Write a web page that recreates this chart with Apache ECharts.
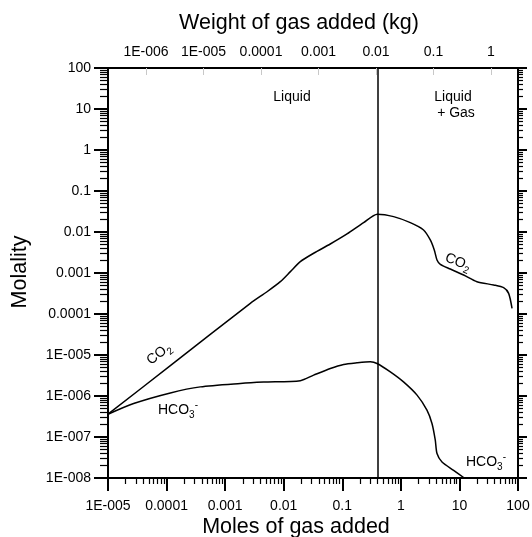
<!DOCTYPE html>
<html>
<head>
<meta charset="utf-8">
<script src="https://cdn.jsdelivr.net/npm/echarts@6/dist/echarts.min.js"></script>
<style>
html, body { margin: 0; padding: 0; background: #fff; }
#chart { width: 532px; height: 537px; }
</style>
</head>
<body>
<div id="chart"></div>
<script>
// moles of gas added (x) and molality (y)
var molesCO2 = [1e-5, 1.16e-4, 2.69e-3, 5.19e-3, 8.75e-3, 0.013, 0.0192, 0.0324, 0.0624, 0.1205, 0.231, 0.396,
                0.752, 1.45, 2.44, 3.18, 3.72, 4.14, 4.72, 6.99, 11.8, 19.9, 38.4, 56.8, 69.2, 79.1];
var co2 = [3.6e-7, 5.5e-6, 1.82e-4, 3.49e-4, 6.14e-4, 1.08e-3, 1.89e-3, 3.03e-3, 5.1e-3, 8.97e-3, 0.0169, 0.0272,
           0.0237, 0.0169, 0.0112, 6.4e-3, 3.65e-3, 2.08e-3, 1.63e-3, 1.25e-3, 8.93e-4, 6.14e-4, 5.1e-4, 4.38e-4, 3.19e-4, 1.37e-4];

var molesHCO3 = [1e-5, 2.74e-5, 1.16e-4, 3.77e-4, 1.82e-3, 4.54e-3, 0.0192, 0.0324, 0.0624, 0.1055, 0.178, 0.301, 0.392,
                 0.661, 1.11, 1.89, 2.79, 3.4, 3.87, 4.14, 5.04, 7.96, 12.1];
var hco3 = [3.6e-7, 6.56e-7, 1.19e-6, 1.67e-6, 2.02e-6, 2.18e-6, 2.37e-6, 3.23e-6, 4.7e-6, 5.89e-6, 6.44e-6, 6.81e-6, 6.22e-6,
            3.88e-6, 2.21e-6, 1.05e-6, 4.51e-7, 2.13e-7, 8.34e-8, 3.94e-8, 2.46e-8, 1.54e-8, 1e-8];

var phaseBoundary = 0.4;   // moles where gas appears

var xTicks = [1e-5, 1e-4, 1e-3, 0.01, 0.1, 1, 10, 100];
var xTickLabels = ['1E-005', '0.0001', '0.001', '0.01', '0.1', '1', '10', '100'];
var yTicks = [1e-8, 1e-7, 1e-6, 1e-5, 1e-4, 1e-3, 0.01, 0.1, 1, 10, 100];
var yTickLabels = ['1E-008', '1E-007', '1E-006', '1E-005', '0.0001', '0.001', '0.01', '0.1', '1', '10', '100'];
var wTicks = [1e-6, 1e-5, 1e-4, 1e-3, 0.01, 0.1, 1];
var wTickLabels = ['1E-006', '1E-005', '0.0001', '0.001', '0.01', '0.1', '1'];
var wRange = [2.18e-7, 2.95];   // weight axis span matching the moles axis

var FONT = '"Liberation Sans", Arial, sans-serif';

function pairs(xs, ys) {
    return xs.map(function (x, i) { return [x, ys[i]]; });
}
function labelFor(ticks, labels) {
    return function (v) {
        for (var i = 0; i < ticks.length; i++) {
            if (Math.abs(Math.log10(v) - Math.log10(ticks[i])) < 1e-6) return labels[i];
        }
        return '';
    };
}
// 2..9 ticks inside each decade
function minorTicks(ticks) {
    var out = [];
    for (var i = 0; i < ticks.length - 1; i++) {
        for (var k = 2; k < 10; k++) out.push(ticks[i] * k);
    }
    return out;
}

var black = { color: '#000', width: 2 };

function axisBase(extra) {
    var a = {
        type: 'log',
        logBase: 10,
        splitLine: { show: false },
        minorTick: { show: false },
        axisLine: { show: true, onZero: false, lineStyle: black },
        axisTick: { show: true, inside: false, lineStyle: { color: '#000', width: 1.5 } },
        axisLabel: { show: false }
    };
    for (var k in extra) a[k] = extra[k];
    return a;
}

function chem(text, x, y, rot) {
    return {
        type: 'text', x: x, y: y, rotation: rot || 0,
        style: {
            text: text, align: 'center', verticalAlign: 'middle',
            rich: {
                n: { fontSize: 14, fontFamily: FONT, fill: '#000', lineHeight: 20, verticalAlign: 'middle' },
                b: { fontSize: 10, fontFamily: FONT, fill: '#000', lineHeight: 20, verticalAlign: 'bottom' },
                t: { fontSize: 10, fontFamily: FONT, fill: '#000', lineHeight: 20, verticalAlign: 'top' }
            }
        }
    };
}
function plain(text, x, y, size, rot) {
    return {
        type: 'text', x: x, y: y, rotation: rot || 0,
        style: { text: text, fontSize: size, fontFamily: FONT, fill: '#000', align: 'center', verticalAlign: 'middle' }
    };
}

var myChart = echarts.init(document.getElementById('chart'));

var option = {
    animation: false,
    backgroundColor: '#fff',
    grid: { left: 108, right: 14, top: 68, bottom: 59, outerBoundsMode: 'none' },
    xAxis: [
        axisBase({
            min: 1e-5, max: 100, position: 'bottom',
            axisTick: { show: true, length: 13, customValues: xTicks, lineStyle: { color: '#000', width: 2 } },
            axisLabel: { show: true, customValues: xTicks, formatter: labelFor(xTicks, xTickLabels),
                         margin: 21, fontSize: 14, color: '#000', fontFamily: FONT }
        }),
        axisBase({
            min: 1e-5, max: 100, position: 'bottom',
            axisLine: { show: false, onZero: false },
            axisTick: { show: true, length: 6, customValues: minorTicks(xTicks), lineStyle: { color: '#000', width: 1.2 } }
        }),
        axisBase({
            min: wRange[0], max: wRange[1], position: 'top',
            axisTick: { show: true, inside: true, length: 7, customValues: wTicks, lineStyle: { color: '#c8c8c8', width: 1 } },
            axisLabel: { show: true, customValues: wTicks, formatter: labelFor(wTicks, wTickLabels),
                         margin: 9, fontSize: 14, color: '#000', fontFamily: FONT }
        })
    ],
    yAxis: [
        axisBase({
            min: 1e-8, max: 100, position: 'left',
            axisTick: { show: true, length: 14, customValues: yTicks, lineStyle: { color: '#000', width: 2 } },
            axisLabel: { show: true, customValues: yTicks, formatter: labelFor(yTicks, yTickLabels),
                         margin: 17, fontSize: 14, color: '#000', fontFamily: FONT }
        }),
        axisBase({
            min: 1e-8, max: 100, position: 'left',
            axisLine: { show: false, onZero: false },
            axisTick: { show: true, length: 8, customValues: minorTicks(yTicks), lineStyle: { color: '#000', width: 1.2 } }
        }),
        axisBase({
            min: 1e-8, max: 100, position: 'right',
            axisTick: { show: true, length: 9, customValues: yTicks, lineStyle: { color: '#000', width: 2 } }
        }),
        axisBase({
            min: 1e-8, max: 100, position: 'right',
            axisLine: { show: false, onZero: false },
            axisTick: { show: true, length: 5, customValues: minorTicks(yTicks), lineStyle: { color: '#000', width: 1.2 } }
        })
    ],
    series: [
        {
            name: 'CO2',
            type: 'line',
            xAxisIndex: 0,
            yAxisIndex: 0,
            data: pairs(molesCO2, co2),
            showSymbol: false,
            smooth: 0.25,
            lineStyle: { color: '#000', width: 1.5 },
            markLine: {
                silent: true,
                symbol: 'none',
                label: { show: false },
                lineStyle: { color: '#000', width: 1.5, type: 'solid' },
                data: [{ xAxis: phaseBoundary }]
            }
        },
        {
            name: 'HCO3-',
            type: 'line',
            xAxisIndex: 0,
            yAxisIndex: 0,
            data: pairs(molesHCO3, hco3),
            showSymbol: false,
            smooth: 0.25,
            lineStyle: { color: '#000', width: 1.5 }
        }
    ],
    graphic: [
        plain('Weight of gas added (kg)', 299, 23, 21.5),
        plain('Moles of gas added', 296, 527, 21.5),
        plain('Molality', 20, 272, 21.5, Math.PI / 2),
        plain('Liquid', 292, 97, 14),
        plain('Liquid', 453, 97, 14),
        plain('+ Gas', 456, 113, 14),
        chem('{n|CO}{b|2}', 159, 354, 0.68),
        chem('{n|CO}{b|2}', 458, 262, -0.38),
        chem('{n|HCO}{b|3}{t|-}', 178, 410),
        chem('{n|HCO}{b|3}{t|-}', 486, 462)
    ]
};

myChart.setOption(option);
</script>
</body>
</html>
